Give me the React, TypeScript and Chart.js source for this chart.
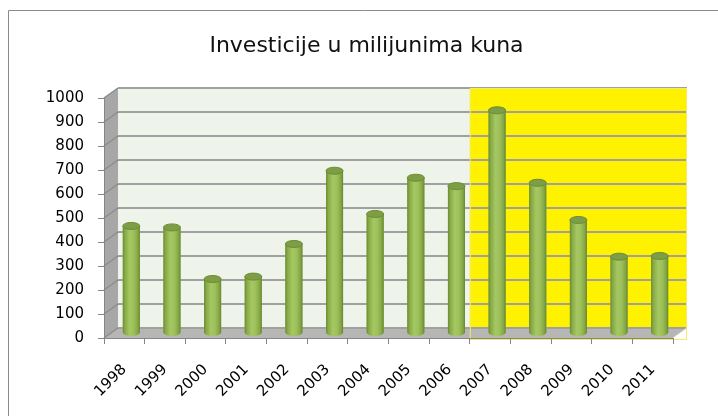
import React, { useEffect, useRef } from 'react';
import { Chart, registerables } from 'chart.js';

Chart.register(...registerables);

const categories = ['1998', '1999', '2000', '2001', '2002', '2003', '2004', '2005', '2006', '2007', '2008', '2009', '2010', '2011'];
const investments = [446, 440, 225, 235, 371, 676, 496, 647, 612, 928, 626, 471, 318, 321];
const yTickValues = [0, 100, 200, 300, 400, 500, 600, 700, 800, 900, 1000];
const highlightFrom = '2007';
const titleText = 'Investicije u milijunima kuna';

const FONT = 'DejaVu Sans';
// 3D depth offsets (back wall and bar mid-depth)
const DX = 14, DY = -10;
const MX = 7, MY = -5;

const wallsPlugin = {
  id: 'walls3d',
  beforeDraw(chart: any) {
    const { ctx, chartArea: a, scales } = chart;
    const xs = scales.x, ys = scales.y;
    const L = a.left, R = a.right, T = a.top, B = a.bottom;
    ctx.save();
    ctx.fillStyle = '#ffffff';
    ctx.fillRect(0, 0, chart.width, chart.height);
    // outer border (top & left visible)
    ctx.strokeStyle = '#8a8a8a';
    ctx.lineWidth = 1;
    ctx.beginPath();
    ctx.moveTo(8.5, chart.height + 5);
    ctx.lineTo(8.5, 10.5);
    ctx.lineTo(chart.width + 5, 10.5);
    ctx.stroke();

    // back wall
    ctx.fillStyle = '#EFF4EA';
    ctx.fillRect(L + DX, T + DY, R - L, B - T);
    // yellow highlight
    const hi = categories.indexOf(highlightFrom);
    const hx = (xs.getPixelForValue(hi - 1) + xs.getPixelForValue(hi)) / 2;
    ctx.fillStyle = '#FFF200';
    ctx.fillRect(hx, T + DY, R + DX - hx, B - T);

    const poly = (pts: number[][], fill: string) => {
      ctx.beginPath();
      ctx.moveTo(pts[0][0], pts[0][1]);
      for (let i = 1; i < pts.length; i++) ctx.lineTo(pts[i][0], pts[i][1]);
      ctx.closePath();
      ctx.fillStyle = fill;
      ctx.fill();
    };
    // side wall
    poly([[L, T], [L + DX, T + DY], [L + DX, B + DY], [L, B]], '#A7A7A7');
    // floor
    poly([[L, B], [R, B], [R + DX, B + DY], [L + DX, B + DY]], '#B6B6B4');

    // gridlines on back wall and side wall
    for (const v of yTickValues) {
      const py = ys.getPixelForValue(v);
      ctx.strokeStyle = '#A0A0A0';
      ctx.lineWidth = 2;
      ctx.beginPath();
      ctx.moveTo(L + DX, py + DY);
      ctx.lineTo(R + DX, py + DY);
      ctx.stroke();
      ctx.strokeStyle = '#8C8C8C';
      ctx.lineWidth = 1.5;
      ctx.beginPath();
      ctx.moveTo(L, py);
      ctx.lineTo(L + DX, py + DY);
      ctx.stroke();
    }
    // floor right edge highlight
    ctx.strokeStyle = '#e8e8e8';
    ctx.lineWidth = 1;
    ctx.beginPath();
    ctx.moveTo(R, B);
    ctx.lineTo(R + DX, B + DY);
    ctx.stroke();
    // yellow outline
    ctx.strokeStyle = '#F3EA6A';
    ctx.lineWidth = 1;
    ctx.strokeRect(hx + 0.5, T + DY + 0.5, R + DX - hx - 1, B - (T + DY) + 1);
    ctx.restore();
  },
  beforeDatasetsDraw(chart: any) {
    chart.ctx.save();
    chart.ctx.translate(MX, MY);
  },
  afterDatasetsDraw(chart: any) {
    const ctx = chart.ctx;
    const meta = chart.getDatasetMeta(0);
    meta.data.forEach((el: any) => {
      const { x, y, base, width } = el.getProps(['x', 'y', 'base', 'width'], true);
      const rx = width / 2, ry = 3.5;
      const g = ctx.createLinearGradient(x - rx, 0, x + rx, 0);
      g.addColorStop(0, '#6A8A32');
      g.addColorStop(0.12, '#86A846');
      g.addColorStop(0.4, '#A5C862');
      g.addColorStop(0.65, '#9DC05A');
      g.addColorStop(0.88, '#84A544');
      g.addColorStop(1, '#668630');
      ctx.beginPath();
      ctx.moveTo(x - rx, y);
      ctx.lineTo(x - rx, base);
      ctx.ellipse(x, base, rx, ry, 0, Math.PI, 0, true);
      ctx.lineTo(x + rx, y);
      ctx.closePath();
      ctx.fillStyle = g;
      ctx.fill();
      ctx.beginPath();
      ctx.ellipse(x, y, rx, ry, 0, 0, Math.PI * 2);
      ctx.fillStyle = '#7E9E45';
      ctx.fill();
      ctx.strokeStyle = '#6C8C35';
      ctx.lineWidth = 1;
      ctx.stroke();
    });
    ctx.restore();
  },
  afterDraw(chart: any) {
    const ctx = chart.ctx;
    ctx.save();
    ctx.font = `22px "${FONT}"`;
    ctx.fillStyle = '#111111';
    ctx.textAlign = 'center';
    ctx.textBaseline = 'alphabetic';
    ctx.fillText(titleText, 366.5, 52);
    ctx.restore();
  },
};

export default function App() {
  const ref = useRef<HTMLCanvasElement | null>(null);
  useEffect(() => {
    if (!ref.current) return;
    const chart = new Chart(ref.current, {
      type: 'bar',
      data: {
        labels: categories,
        datasets: [
          {
            label: titleText,
            data: investments,
            backgroundColor: '#93B74E',
            borderWidth: 0,
            categoryPercentage: 1,
            barPercentage: 0.42,
          },
        ],
      },
      options: {
        animation: false,
        responsive: true,
        maintainAspectRatio: false,
        layout: { padding: { top: 98, right: 45, bottom: 0, left: 0 } },
        plugins: { legend: { display: false }, tooltip: { enabled: false }, title: { display: false } },
        scales: {
          x: {
            afterFit: (s: any) => { s.height = 78; },
            grid: { drawOnChartArea: false, drawTicks: true, tickLength: 6, color: '#868686', offset: true },
            border: { display: true, color: '#868686' },
            ticks: {
              autoSkip: false,
              maxRotation: 45,
              minRotation: 45,
              padding: 17,
              color: '#000000',
              font: { family: FONT, size: 15 },
            },
          },
          y: {
            min: 0,
            max: 1000,
            afterFit: (s: any) => { s.width = 104; },
            afterBuildTicks: (s: any) => { s.ticks = yTickValues.map((v) => ({ value: v })); },
            grid: { drawOnChartArea: false, drawTicks: true, tickLength: 6, color: '#868686' },
            border: { display: true, color: '#868686' },
            ticks: {
              padding: 14,
              color: '#000000',
              font: { family: FONT, size: 15 },
              callback: (v: any) => String(v),
            },
          },
        },
      },
      plugins: [wallsPlugin],
    });
    return () => chart.destroy();
  }, []);
  return (
    <div style={{ position: 'fixed', left: 0, top: 0, width: 718, height: 416 }}>
      <canvas ref={ref} />
    </div>
  );
}
